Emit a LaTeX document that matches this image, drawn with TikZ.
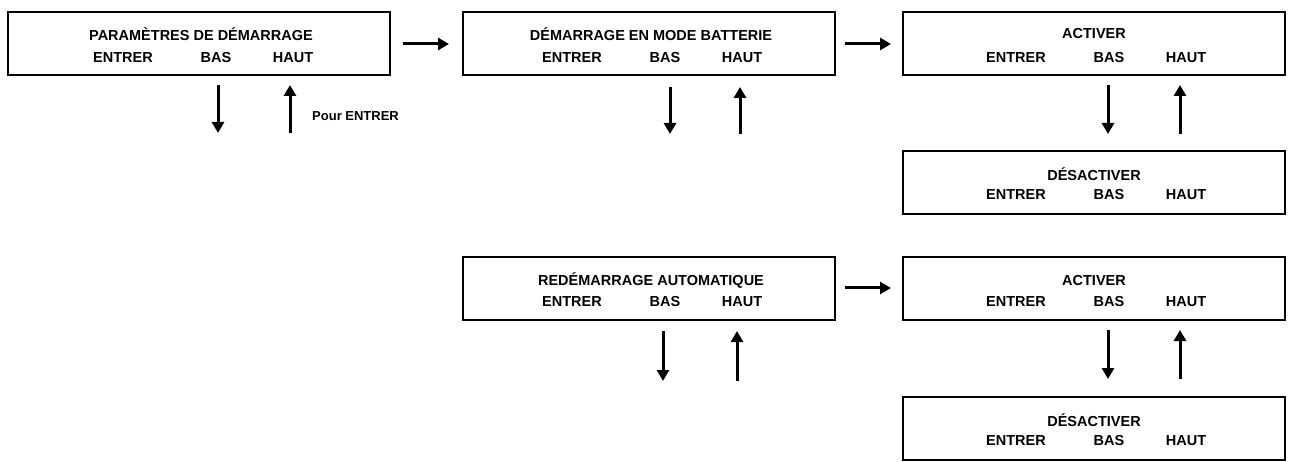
\documentclass[tikz,border=0pt]{standalone}
\usepackage{fontspec}
\setmainfont{Liberation Sans}
\usetikzlibrary{arrows.meta}
\begin{document}
\begin{tikzpicture}[x=1pt,y=-1pt,
  box/.style={draw,line width=1.6pt,minimum width=#1,minimum height=63pt,inner sep=0pt},
  box/.default=382pt,
  t/.style={font=\bfseries\fontsize{14.5}{16}\selectfont,inner sep=0pt},
  arr/.style={line width=3pt,-{Triangle[length=11pt,width=12pt]}}]
\useasboundingbox (0,0) rectangle (1293,462);
% boxes
\node[box] (b1) at (199,43.5) {};
\node[box=372pt] (b2) at (649,43.5) {};
\node[box] (b3) at (1094,43.5) {};
\node[box] (b4) at (1094,182.5) {};
\node[box=372pt] (b5) at (649,288.5) {};
\node[box] (b6) at (1094,288.5) {};
\node[box] (b7) at (1094,428.5) {};
% texts
\node[t] (t1) at (201,34) {PARAMÈTRES DE DÉMARRAGE};
\node[t] (t2) at (651,34) {DÉMARRAGE EN MODE BATTERIE};
\node[t] (t3) at (1094,34) {ACTIVER};
\node[t] (t4) at (1094,174) {DÉSACTIVER};
\node[t] (t5) at (651,281) {REDÉMARRAGE AUTOMATIQUE};
\node[t] (t6) at (1094,281) {ACTIVER};
\node[t] (t7) at (1094,420) {DÉSACTIVER};
\foreach \n/\cx/\cy in {a/123/58,b/572/58,c/1016/58,d/1016/195,e/572/302,f/1016/302,g/1016/441}{
  \node[t] (\n E) at (\cx,\cy) {ENTRER};
  \node[t] (\n B) at (\cx+93,\cy) {BAS};
  \node[t] (\n H) at (\cx+170,\cy) {HAUT};
}
% arrows
\coordinate (r1a) at (403,44); \coordinate (r1b) at (449,44);
\coordinate (r2a) at (845,44); \coordinate (r2b) at (891,44);
\coordinate (r3a) at (845,288); \coordinate (r3b) at (891,288);
\draw[arr] (r1a) -- (r1b);
\draw[arr] (r2a) -- (r2b);
\draw[arr] (r3a) -- (r3b);
\foreach \n/\dx/\ux/\ya/\yb in {p/218/290/85/133,q/670/740/87/134,r/1108/1180/85/134,s/663/737/331/381,u/1108/1180/330/379}{
  \coordinate (\n d1) at (\dx,\ya); \coordinate (\n d2) at (\dx,\yb);
  \coordinate (\n u1) at (\ux,\yb); \coordinate (\n u2) at (\ux,\ya);
  \draw[arr] (\n d1) -- (\n d2);
  \draw[arr] (\n u1) -- (\n u2);
}
\node[t,anchor=west,font=\bfseries\fontsize{13}{15}\selectfont] (pe) at (312,116) {Pour ENTRER};
\end{tikzpicture}
\end{document}
